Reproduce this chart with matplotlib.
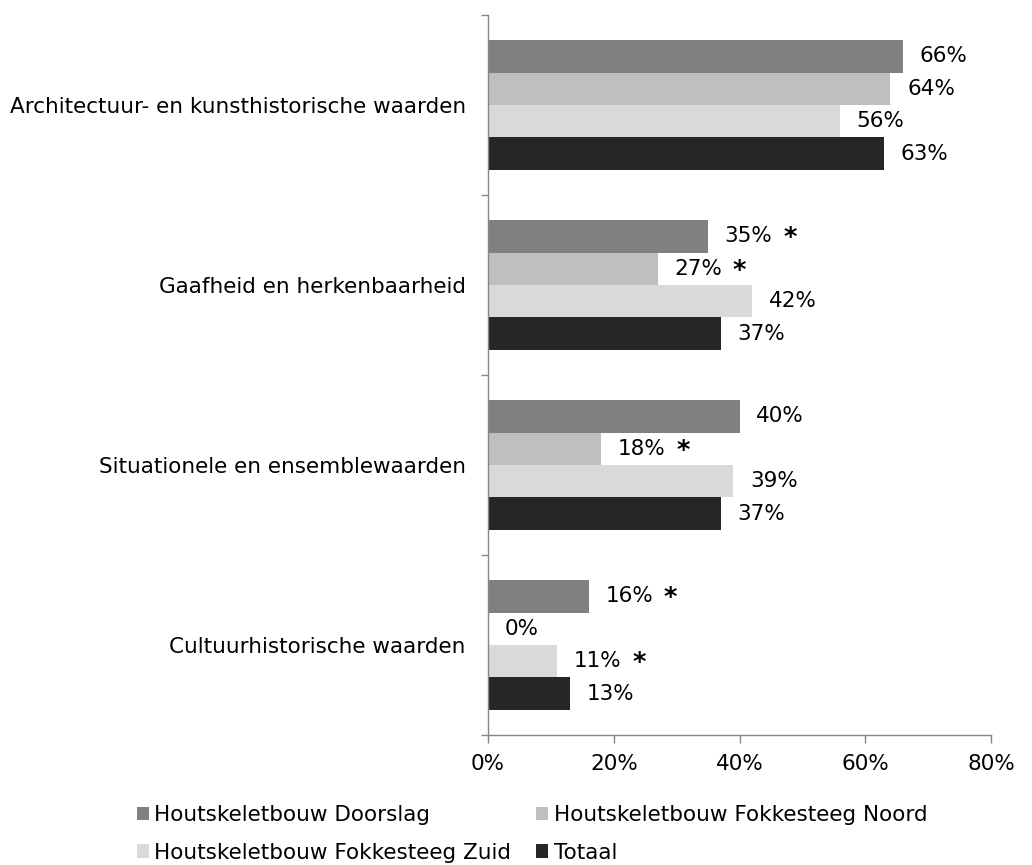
import matplotlib
matplotlib.use("Agg")
import matplotlib.pyplot as plt
import numpy as np
from matplotlib.patches import Patch

categories = ["Architectuur- en kunsthistorische waarden",
              "Gaafheid en herkenbaarheid",
              "Situationele en ensemblewaarden",
              "Cultuurhistorische waarden"]
series_names = ["Houtskeletbouw Doorslag",
                "Houtskeletbouw Fokkesteeg Noord",
                "Houtskeletbouw Fokkesteeg Zuid",
                "Totaal"]
doorslag = [66, 35, 40, 16]
noord = [64, 27, 18, 0]
zuid = [56, 42, 39, 11]
totaal = [63, 37, 37, 13]
star_doorslag = [False, True, False, True]
star_noord = [False, True, True, False]
star_zuid = [False, False, False, True]
star_totaal = [False, False, False, False]
x_ticks = [0, 20, 40, 60, 80]
x_tick_labels = ["0%", "20%", "40%", "60%", "80%"]

values = [doorslag, noord, zuid, totaal]
stars = [star_doorslag, star_noord, star_zuid, star_totaal]
colors = ["#808080", "#BFBFBF", "#D9D9D9", "#262626"]

plt.rcParams['font.family'] = ['DejaVu Sans']
fs = 15.5

fig = plt.figure(figsize=(10.32, 8.65), dpi=100)
ax = fig.add_axes([488/1032, 1-735/865, (991-488)/1032, (735-15)/865])

bh = 0.18
y = np.arange(len(categories))
for i, (vals, st, col) in enumerate(zip(values, stars, colors)):
    pos = y - 1.5*bh + i*bh
    ax.barh(pos, vals, height=bh, color=col, edgecolor='none')
    for p, v, s in zip(pos, vals, st):
        ax.annotate(f"{v}%", (v, p), xytext=(12, 0), textcoords='offset points',
                    ha='left', va='center', fontsize=fs, color='black')
        if s:
            ax.annotate("*", (v, p), xytext=(54, -2), textcoords='offset points',
                        ha='left', va='center', fontsize=fs+3, fontweight='bold', color='black')

ax.set_xlim(0, 80)
ax.set_ylim(len(categories)-0.5, -0.5)
ax.set_xticks(x_ticks)
ax.set_xticklabels(x_tick_labels, fontsize=fs)
ax.set_yticks(y)
ax.set_yticklabels(categories, fontsize=fs)
ax.tick_params(axis='y', length=0, pad=16)
ax.set_yticks(np.arange(len(categories)+1) - 0.5, minor=True)
ax.tick_params(axis='y', which='minor', length=5, color='#868686', width=1)
ax.tick_params(axis='x', length=6, color='#868686', width=1, pad=8)
for s in ['top', 'right']:
    ax.spines[s].set_visible(False)
for s in ['left', 'bottom']:
    ax.spines[s].set_color('#868686')
    ax.spines[s].set_linewidth(1)

handles = [Patch(facecolor=c, edgecolor='none') for c in colors]
order = [0, 2, 1, 3]
fig.legend([handles[k] for k in order], [series_names[k] for k in order],
           ncol=2, loc='center left', bbox_to_anchor=(137/1032, 1-834/865),
           frameon=False, fontsize=fs, handlelength=0.56, handleheight=0.56,
           handletextpad=0.25, columnspacing=1.15, labelspacing=0.8,
           borderpad=0, borderaxespad=0)

fig.savefig("out.png", dpi=100)
